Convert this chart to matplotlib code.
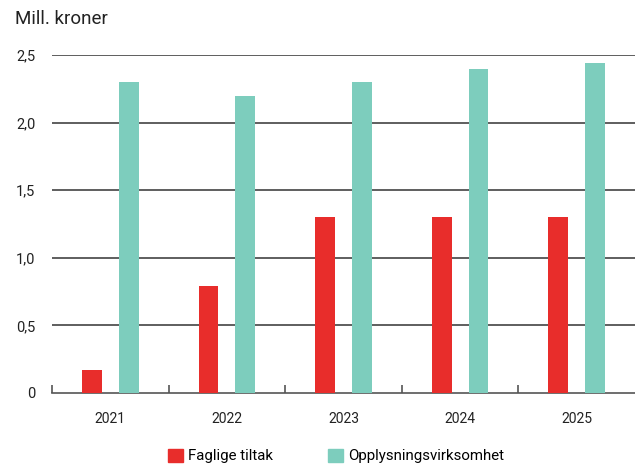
import numpy as np
import matplotlib
matplotlib.use("Agg")
import matplotlib.pyplot as plt
from matplotlib.patches import Patch
from matplotlib.ticker import FixedLocator

years = ["2021", "2022", "2023", "2024", "2025"]
faglige = [0.17, 0.79, 1.30, 1.30, 1.30]
opplysning = [2.30, 2.20, 2.30, 2.40, 2.44]
series_names = ["Faglige tiltak", "Opplysningsvirksomhet"]
yticks = [0, 0.5, 1.0, 1.5, 2.0, 2.5]
ytick_labels = ["0", "0,5", "1,0", "1,5", "2,0", "2,5"]

RED = "#E82D2B"
TEAL = "#7DCDBD"

plt.rcParams["font.family"] = ["Roboto", "DejaVu Sans"]

fig = plt.figure(figsize=(6.35, 4.66), dpi=100)
ax = fig.add_axes([52 / 635, 1 - 393 / 466, 583 / 635, (393 - 55) / 466])

x = np.arange(len(years))
w, off = 0.17, 0.158
ax.bar(x - off, faglige, w, color=RED, zorder=3)
ax.bar(x + off, opplysning, w, color=TEAL, zorder=3)

ax.set_xlim(-0.5, len(years) - 0.5)
ax.set_ylim(0, 2.5)
for s in ["top", "right", "left"]:
    ax.spines[s].set_visible(False)
ax.spines["bottom"].set_color("#555555")
ax.spines["bottom"].set_linewidth(1.2)

ax.set_yticks(yticks)
ax.set_yticklabels(ytick_labels)
ax.tick_params(axis="y", length=0, pad=12, labelsize=10.5, labelcolor="#222222")
for yv in yticks[1:]:
    ax.axhline(yv, color="#333333", lw=1.1, zorder=1)

# boundary ticks (major) + year labels (minor)
ax.xaxis.set_major_locator(FixedLocator(np.arange(-0.5, len(years) - 0.5, 1.0)))
ax.set_xticklabels([])
ax.xaxis.set_minor_locator(FixedLocator(x))
ax.set_xticklabels(years, minor=True)
ax.tick_params(axis="x", which="major", direction="in", length=6, width=1.2, color="#555555")
ax.tick_params(axis="x", which="minor", length=0, pad=14, labelsize=10, labelcolor="#222222")

fig.text(15 / 635, 1 - 19 / 466, "Mill. kroner", fontsize=13.5, va="center", ha="left", color="#222222")

handles = [Patch(color=RED), Patch(color=TEAL)]
fig.legend(handles, series_names, loc="center", bbox_to_anchor=(336 / 635, 1 - 456 / 466),
           ncol=2, frameon=False, fontsize=10.8, handlelength=1.0, handleheight=1.0,
           handletextpad=0.4, columnspacing=3.6)

fig.savefig("out.png", dpi=100)
